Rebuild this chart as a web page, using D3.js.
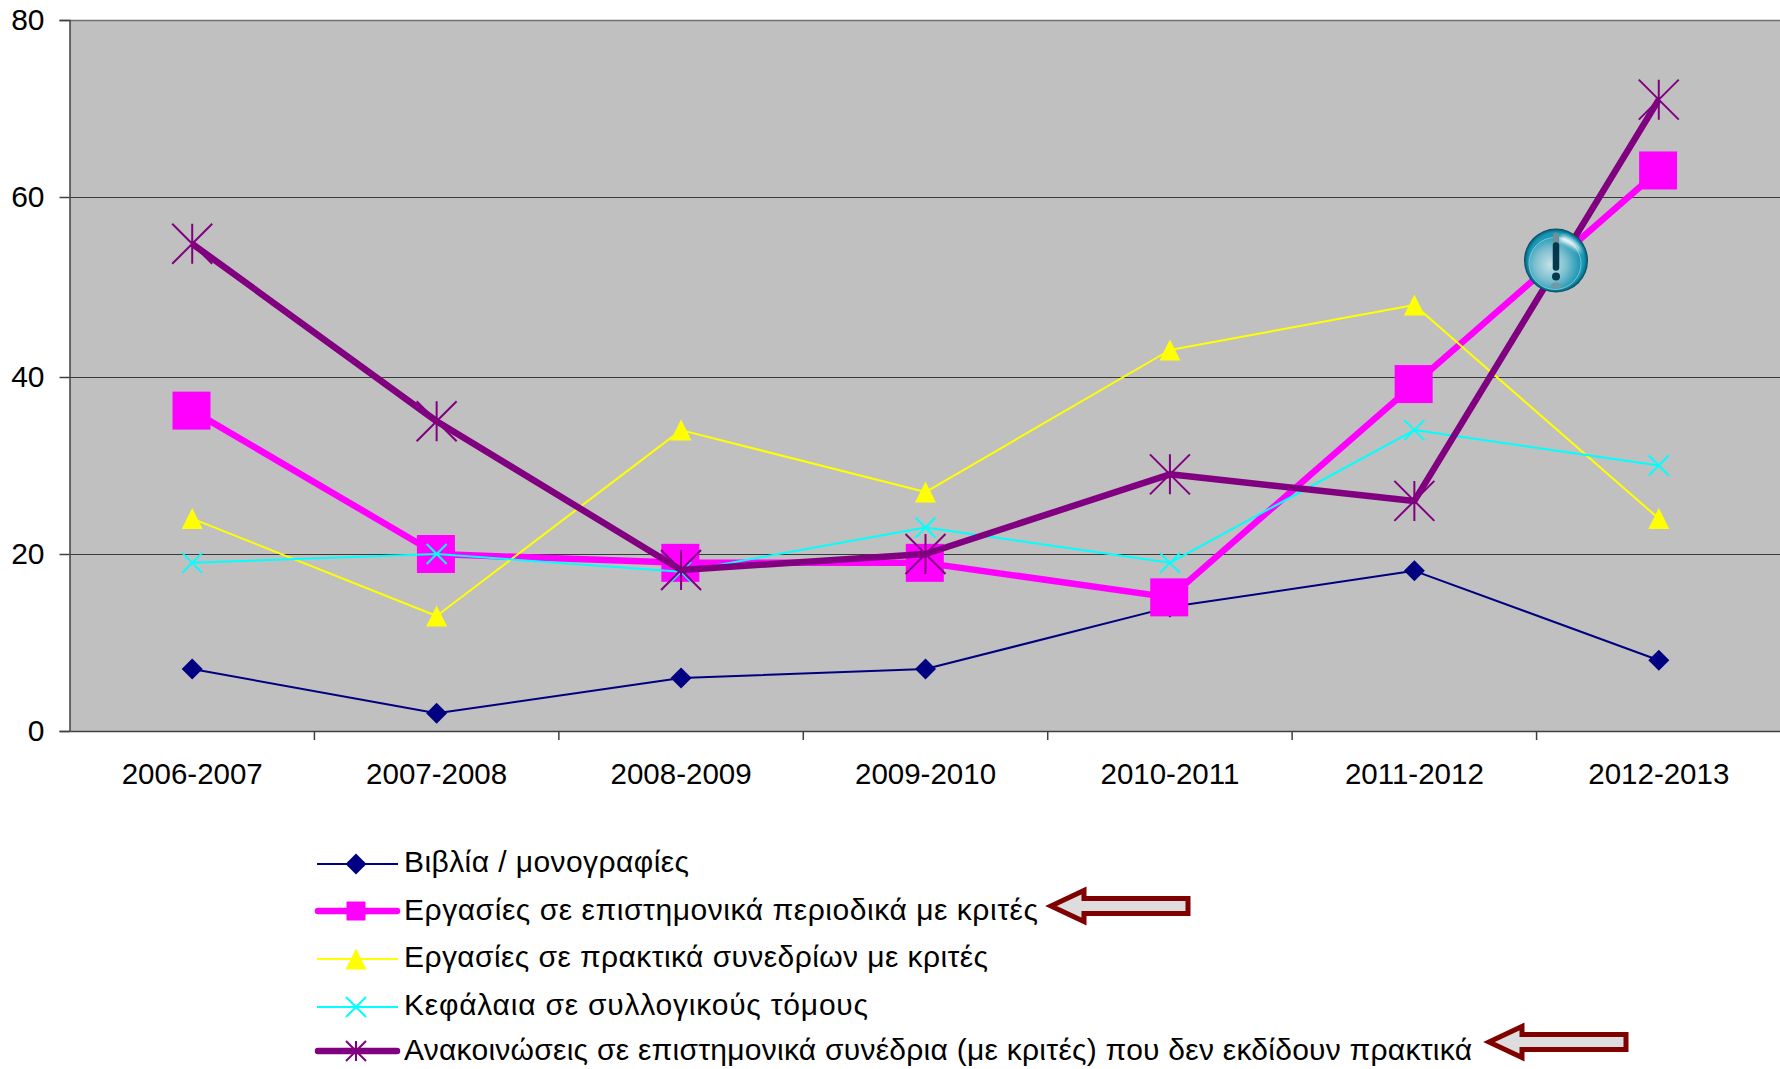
<!DOCTYPE html>
<html><head><meta charset="utf-8">
<script src="https://cdn.jsdelivr.net/npm/d3@7"></script>
<style>html,body{margin:0;padding:0;background:#fff}svg{display:block}text{font-family:"Liberation Sans",Arial,sans-serif;fill:#000}</style>
</head><body><svg id="c" width="1780" height="1069"></svg>
<script>
const categories=["2006-2007","2007-2008","2008-2009","2009-2010","2010-2011","2011-2012","2012-2013"];
const yTicks=[0,20,40,60,80];
const books=[7,2,6,7,14,18.1,8];
const journals=[36.2,20,19,19,15.1,39.2,63];
const proceedings=[24,13,34,27,43,48,24];
const chapters=[19,20,18,23,19,34,30];
const talks=[54.8,35,18.2,20,29,26,71];
const seriesNames=["Βιβλία / μονογραφίες","Εργασίες σε επιστημονικά περιοδικά με κριτές","Εργασίες σε πρακτικά συνεδρίων με κριτές","Κεφάλαια σε συλλογικούς τόμους","Ανακοινώσεις σε επιστημονικά συνέδρια (με κριτές) που δεν εκδίδουν πρακτικά"];
const seriesValues=[books,journals,proceedings,chapters,talks];
const seriesColors=["#000080","#ff00ff","#ffff00","#00ffff","#800080"];
const seriesWidths=[2,6.5,2,2,6.5];
const seriesMarkers=["diamond","square","triangle","x","star"];
const markerSizes=[10.5,19,10.5,10,20];
const legendMarkerSizes=[10.5,9.5,10.5,10,10];
const legendWidths=[285,634,584,464,1068];
const legendRows=[864,911,959,1007,1051];
const legendBaselines=[872,920,967,1015,1060];
const arrows=[{tip:1051,end:1188,y:906},{tip:1489,end:1626,y:1042}];

const svg=d3.select("#c");
const L=70,R=1781,T=20,B=731;
const x=d3.scaleBand().domain(categories).range([L,R]);
const y=d3.scaleLinear().domain(yTicks).range([731,554,377,197,20]);
const defs=svg.append("defs");

svg.append("rect").attr("x",L).attr("y",T).attr("width",R-L).attr("height",B-T).attr("fill","#c0c0c0");
svg.append("g").selectAll("line").data(yTicks.slice(1,-1)).join("line")
  .attr("x1",L).attr("x2",R).attr("y1",d=>y(d)+.5).attr("y2",d=>y(d)+.5).attr("stroke","#3a3a3a").attr("stroke-width",1);
svg.append("line").attr("x1",L).attr("x2",R).attr("y1",T+.5).attr("y2",T+.5).attr("stroke","#707070").attr("stroke-width",1.5);

const gy=svg.append("g").attr("transform",`translate(${L-.5},0)`).call(d3.axisLeft(y).tickValues(yTicks).tickSize(10).tickPadding(15));
gy.selectAll("text").attr("font-size",30).style("font-family",'"Liberation Sans"').attr("fill","#000");
gy.selectAll("line,path").attr("stroke","#404040").attr("stroke-width",1.5);
const gx=svg.append("g").attr("transform",`translate(0,${B})`).call(d3.axisBottom(x).tickSize(0).tickPadding(32));
gx.selectAll("text").attr("font-size",29.5).style("font-family",'"Liberation Sans"').attr("fill","#000");
gx.select("path").attr("stroke","#404040").attr("stroke-width",1.5);
svg.append("g").selectAll("line").data(categories.slice(1)).join("line")
  .attr("x1",d=>x(d)).attr("x2",d=>x(d)).attr("y1",B).attr("y2",B+9).attr("stroke","#404040").attr("stroke-width",1.5);

function marker(g,type,cx,cy,s,color){
  if(type==="diamond") g.append("path").attr("d",`M${cx-s},${cy}L${cx},${cy-s}L${cx+s},${cy}L${cx},${cy+s}Z`).attr("fill",color);
  if(type==="square") g.append("rect").attr("x",cx-s).attr("y",cy-s).attr("width",2*s).attr("height",2*s).attr("fill",color);
  if(type==="triangle") g.append("path").attr("d",`M${cx},${cy-s}L${cx+s},${cy+s}L${cx-s},${cy+s}Z`).attr("fill",color);
  if(type==="x"||type==="star"){
    const p=`M${cx-s},${cy-s}L${cx+s},${cy+s}M${cx+s},${cy-s}L${cx-s},${cy+s}`+(type==="star"?`M${cx},${cy-s}L${cx},${cy+s}`:"");
    g.append("path").attr("d",p).attr("fill","none").attr("stroke",color).attr("stroke-width",2);
  }
}
const line=d3.line().x((d,i)=>x(categories[i])+x.bandwidth()/2).y(d=>y(d));
seriesValues.forEach((vals,k)=>{
  const g=svg.append("g");
  g.append("path").attr("d",line(vals)).attr("fill","none").attr("stroke",seriesColors[k]).attr("stroke-width",seriesWidths[k]).attr("stroke-linejoin","round");
  vals.forEach((v,i)=>marker(g,seriesMarkers[k],x(categories[i])+x.bandwidth()/2-(seriesMarkers[k]==="square"?.7:0),y(v),markerSizes[k],seriesColors[k]));
});

// warning icon
const grad=defs.append("radialGradient").attr("id","orb").attr("cx","42%").attr("cy","52%").attr("r","60%");
[[0,"#c6e2e8"],[.5,"#7fc0d0"],[.85,"#2f9fb9"],[1,"#1a8eab"]].forEach(s=>grad.append("stop").attr("offset",s[0]).attr("stop-color",s[1]));
const rim=defs.append("radialGradient").attr("id","rim");
[[0,"#2aa6c2"],[.86,"#1898b6"],[.93,"#0c7a96"],[1,"#03465a"]].forEach(s=>rim.append("stop").attr("offset",s[0]).attr("stop-color",s[1]));
defs.append("filter").attr("id","soft").append("feGaussianBlur").attr("stdDeviation",2);
const ic=svg.append("g").attr("transform","translate(1556,260.5)");
ic.append("circle").attr("r",32).attr("fill","url(#rim)");
ic.append("circle").attr("cx",-1).attr("cy",3).attr("r",26).attr("fill","url(#orb)").attr("stroke","#8fd0dd").attr("stroke-width",.8);
ic.append("path").attr("d","M7,-25Q22,-20 26,-7Q14,-17 1,-20Z").attr("fill","#ffffff").attr("filter","url(#soft)");
ic.append("path").attr("d","M0,-25L0,-19").attr("stroke","#6f8f99").attr("stroke-width",6).attr("stroke-linecap","round");
ic.append("ellipse").attr("cy",25).attr("rx",5).attr("ry",3).attr("fill","#6f9aa5");
ic.append("path").attr("d","M0,-15L0,7").attr("stroke","#04384c").attr("stroke-width",6.5).attr("stroke-linecap","round");
ic.append("circle").attr("cy",16).attr("r",4).attr("fill","#04384c");

// legend
seriesNames.forEach((n,k)=>{
  const g=svg.append("g"),yy=legendRows[k],thick=seriesWidths[k]>3;
  g.append("line").attr("x1",thick?318:317).attr("x2",thick?397:398).attr("y1",yy).attr("y2",yy).attr("stroke",seriesColors[k]).attr("stroke-width",thick?6.5:2).attr("stroke-linecap",thick?"round":"butt");
  marker(g,seriesMarkers[k],356,yy,legendMarkerSizes[k],seriesColors[k]);
  g.append("text").attr("x",404).attr("y",legendBaselines[k]).attr("font-size",30).attr("textLength",legendWidths[k]).attr("lengthAdjust","spacing").text(n);
});
// arrows
arrows.forEach(a=>{
  const h=a.tip+33,hh=15.5,sh=7.5;
  svg.append("path").attr("d",`M${a.tip},${a.y}L${h},${a.y-hh}L${h},${a.y-sh}L${a.end},${a.y-sh}L${a.end},${a.y+sh}L${h},${a.y+sh}L${h},${a.y+hh}Z`)
    .attr("fill","#dddddd").attr("stroke","#800000").attr("stroke-width",5);
});
</script></body></html>
